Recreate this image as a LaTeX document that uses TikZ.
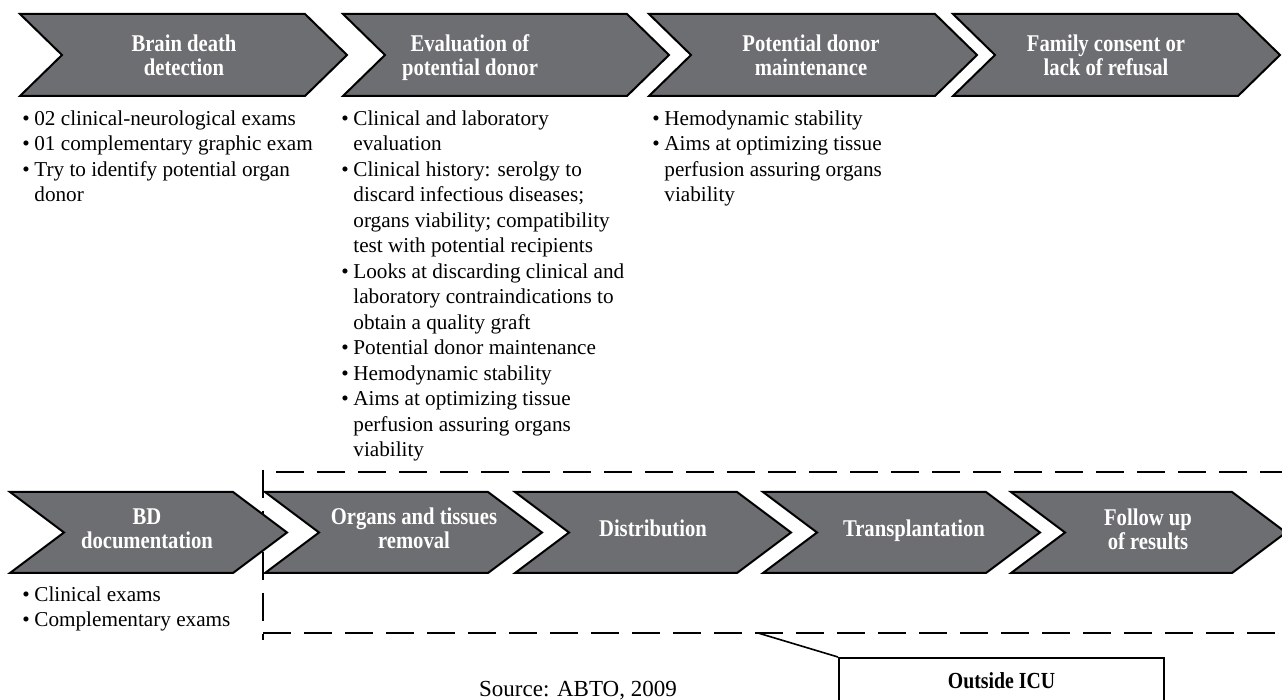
\documentclass[tikz,border=0pt]{standalone}
\usepackage{fontspec}
\setmainfont{Liberation Serif}
\usetikzlibrary{positioning}
\definecolor{chevgray}{RGB}{109,110,113}
\newcommand{\chevron}[5]{%
  \draw[chev] (#1,#3) -- (#2,#3) -- ({#2+#5},{(#3+#4)/2}) -- (#2,#4) -- (#1,#4) -- ({#1+#5},{(#3+#4)/2}) -- cycle;}
\newcommand{\bl}{\makebox[6pt][l]{\textbullet}}
\newcommand{\ind}{\hspace*{6pt}}

\begin{document}
\begin{tikzpicture}[x=0.5pt, y=-0.5pt,
  chev/.style={draw=black, line width=1pt, fill=chevgray},
  ttl/.style={text=white, font=\fontsize{12}{12}\selectfont\bfseries, align=center, inner sep=0pt, xscale=0.86, transform shape},
  lst/.style={font=\fontsize{10.6}{12.75}\selectfont, align=left, anchor=north west, inner sep=0pt},
  dsh/.style={line width=1pt, dash pattern=on 14pt off 6.5pt}]
\useasboundingbox (0,0) rectangle (1282,700);

\draw[dsh] (263,470) -- (263,640);
\draw[dsh] (276,472) -- (1290,472);
\draw[dsh] (263,633) -- (1290,633);

\chevron{20}{305}{14}{96}{42}
\chevron{343}{627}{14}{96}{42}
\chevron{649}{935}{14}{96}{42}
\chevron{953}{1238}{14}{96}{42}
\chevron{10}{233}{492}{573}{54}
\chevron{265}{488}{492}{573}{54}
\chevron{515}{737}{492}{573}{54}
\chevron{763}{986}{492}{573}{54}
\chevron{1011}{1232}{492}{573}{54}

\node[ttl] (brain) at (184,55) {Brain death\\detection};
\node[ttl] (eval) at (470,58) {Evaluation of\\potential donor};
\node[ttl] (maint) at (811,55) {Potential donor\\maintenance};
\node[ttl] (family) at (1106,55) {Family consent or\\lack of refusal};
\node[ttl] (bd) at (147,529) {BD\\documentation};
\node[ttl] (removal) at (414,528) {Organs and tissues\\removal};
\node[ttl] (distr) at (653,528) {Distribution};
\node[ttl] (transp) at (914,531) {Transplantation};
\node[ttl] (follow) at (1148,529) {Follow up\\of results};

\node[lst] (brainlist) at (22,110) {\bl 02 clinical-neurological exams\\
  \bl 01 complementary graphic exam\\
  \bl Try to identify potential organ\\
  \ind donor};
\node[lst] (evallist) at (341,110) {\bl Clinical and laboratory\\
  \ind evaluation\\
  \bl Clinical history: serolgy to\\
  \ind discard infectious diseases;\\
  \ind organs viability; compatibility\\
  \ind test with potential recipients\\
  \bl Looks at discarding clinical and\\
  \ind laboratory contraindications to\\
  \ind obtain a quality graft\\
  \bl Potential donor maintenance\\
  \bl Hemodynamic stability\\
  \bl Aims at optimizing tissue\\
  \ind perfusion assuring organs\\
  \ind viability};
\node[lst] (maintlist) at (652,110) {\bl Hemodynamic stability\\
  \bl Aims at optimizing tissue\\
  \ind perfusion assuring organs\\
  \ind viability};
\node[lst] (bdlist) at (22,586) {\bl Clinical exams\\
  \bl Complementary exams};

\node[font=\fontsize{11.5}{13}\selectfont, inner sep=0pt] (source) at (578,691) {Source: ABTO, 2009};

\coordinate (icu) at (758,633);
\node[draw, line width=1pt, anchor=north west, minimum width=162.5pt, minimum height=23pt,
  font=\fontsize{11.5}{12}\selectfont\bfseries] (outside) at (838,657) {\scalebox{0.86}[1]{Outside ICU}};
\draw[line width=0.8pt] (icu) -- (outside.north west);
\end{tikzpicture}
\end{document}
